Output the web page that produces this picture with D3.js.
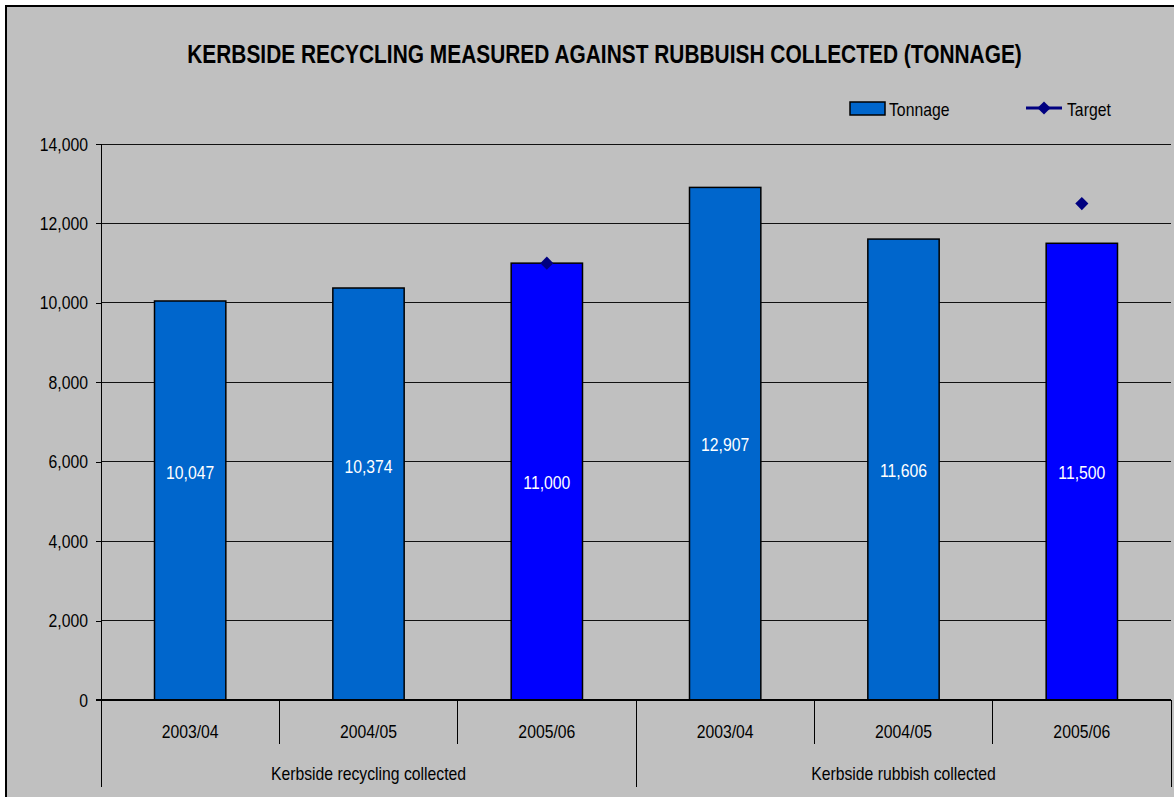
<!DOCTYPE html>
<html><head><meta charset="utf-8">
<script src="https://cdn.jsdelivr.net/npm/d3@7"></script>
<style>
html,body{margin:0;padding:0;background:#fff;}
svg text{font-family:"Liberation Sans Narrow","Arial Narrow","Liberation Sans",Arial,sans-serif;}
</style></head><body>
<svg id="chart" width="1174" height="797"></svg>
<script>
const years = ["2003/04","2004/05","2005/06","2003/04","2004/05","2005/06"];
const groups = ["Kerbside recycling collected","Kerbside rubbish collected"];
const groupOf = [0,0,0,1,1,1];
const tonnage = [10047,10374,11000,12907,11606,11500];
const highlight = [false,false,true,false,false,true];
const target = [null,null,11000,null,null,12500];
const yTicks = [0,2000,4000,6000,8000,10000,12000,14000];

const SX = 0.83; // horizontal condensing to imitate a narrow face
const labelLift = [28,28,0,0,0,0]; // label placement offsets as in the original (px)

const svg = d3.select("#chart");
const W = 1174, H = 797;
svg.append("rect").attr("x",0).attr("y",0).attr("width",W).attr("height",H).attr("fill","#fff");
svg.append("rect").attr("x",6).attr("y",6).attr("width",W-5).attr("height",H).attr("fill","#C0C0C0")
  .attr("stroke","#000").attr("stroke-width",2);

function narrowText(g, x, yv, txt, size, anchor, fill, sx){
  return g.append("text")
    .attr("transform",`translate(${x},${yv}) scale(${sx||SX},1)`)
    .attr("text-anchor",anchor||"middle").attr("font-size",size).attr("fill",fill||"#000")
    .text(txt);
}

const L = 101, R = 1171, T = 144, B = 700;
const idx = d3.range(tonnage.length);
const x = d3.scaleBand().domain(idx).range([L,R]).paddingInner(0.6).paddingOuter(0.3);
const xc = d3.scaleBand().domain(idx).range([L,R]);
const y = d3.scaleLinear().domain([0,14000]).range([B,T]);

// gridlines
svg.append("g").selectAll("line").data(yTicks.filter(d=>d>0)).join("line")
  .attr("x1",L).attr("x2",R).attr("y1",d=>y(d)).attr("y2",d=>y(d))
  .attr("stroke","#111").attr("stroke-width",1).attr("shape-rendering","crispEdges");

// y axis
const yAxis = d3.axisLeft(y).tickValues(yTicks).tickSize(5).tickPadding(8).tickFormat(d3.format(","));
const ya = svg.append("g").attr("transform",`translate(${L},0)`).call(yAxis);
ya.select(".domain").attr("stroke","#000").attr("shape-rendering","crispEdges");
ya.selectAll(".tick line").attr("stroke","#000").attr("shape-rendering","crispEdges");
ya.selectAll(".tick text").attr("font-size",19).attr("fill","#000")
  .attr("x",-13/SX).attr("transform",`scale(${SX},1)`)
  .style("font-family",'"Liberation Sans Narrow","Arial Narrow","Liberation Sans",Arial,sans-serif');

// bars
svg.append("g").selectAll("rect").data(idx).join("rect")
  .attr("x",i=>x(i)).attr("width",x.bandwidth())
  .attr("y",i=>y(tonnage[i])).attr("height",i=>B-y(tonnage[i]))
  .attr("fill",i=>highlight[i]?"#0000FF":"#0066CC")
  .attr("stroke","#000").attr("stroke-width",1.5);

// data labels
const dl = svg.append("g");
idx.forEach(i=>{
  narrowText(dl, x(i)+x.bandwidth()/2, (y(tonnage[i])+B)/2 - labelLift[i] + 7,
    d3.format(",")(tonnage[i]), 19, "middle", "#fff");
});

// x axis baseline
svg.append("line").attr("x1",L-5).attr("x2",R).attr("y1",B).attr("y2",B)
  .attr("stroke","#000").attr("stroke-width",1.5).attr("shape-rendering","crispEdges");

// category ticks
const bounds = d3.range(tonnage.length+1).map(i=> i<tonnage.length ? xc(i) : xc(tonnage.length-1)+xc.bandwidth());
svg.append("g").selectAll("line").data(bounds).join("line")
  .attr("x1",d=>d).attr("x2",d=>d).attr("y1",B)
  .attr("y2",(d,i)=> (i%3===0) ? 787 : 744)
  .attr("stroke","#000").attr("stroke-width",1).attr("shape-rendering","crispEdges");

const xl = svg.append("g");
idx.forEach(i=> narrowText(xl, xc(i)+xc.bandwidth()/2, 738, years[i], 19));
groups.forEach((g,gi)=>{
  const ids = idx.filter(i=>groupOf[i]===gi);
  narrowText(xl, (xc(ids[0])+xc(ids[ids.length-1])+xc.bandwidth())/2, 780, g, 19);
});

// target markers
const diamond = d3.symbol().type(d3.symbolDiamond2).size(110);
svg.append("g").selectAll("path").data(idx.filter(i=>target[i]!=null)).join("path")
  .attr("transform",i=>`translate(${xc(i)+xc.bandwidth()/2},${y(target[i])})`)
  .attr("d",diamond).attr("fill","#000080");

// title (condensed to the original's width)
const title = narrowText(svg, 604.5, 63, "KERBSIDE RECYCLING MEASURED AGAINST RUBBUISH COLLECTED (TONNAGE)", 26, "middle", "#000", 1)
  .attr("font-weight","bold");
const tw = title.node().getComputedTextLength();
title.attr("transform",`translate(604.5,63) scale(${835/tw},1)`);

// legend
const lg = svg.append("g");
lg.append("rect").attr("x",850).attr("y",102).attr("width",35).attr("height",13)
  .attr("fill","#0066CC").attr("stroke","#000").attr("stroke-width",1.5);
narrowText(lg, 889, 116, "Tonnage", 19, "start");
lg.append("line").attr("x1",1026).attr("x2",1062).attr("y1",108).attr("y2",108)
  .attr("stroke","#000080").attr("stroke-width",3);
lg.append("path").attr("transform","translate(1044,108)").attr("d",diamond).attr("fill","#000080");
narrowText(lg, 1067, 116, "Target", 19, "start");
</script>
</body></html>
